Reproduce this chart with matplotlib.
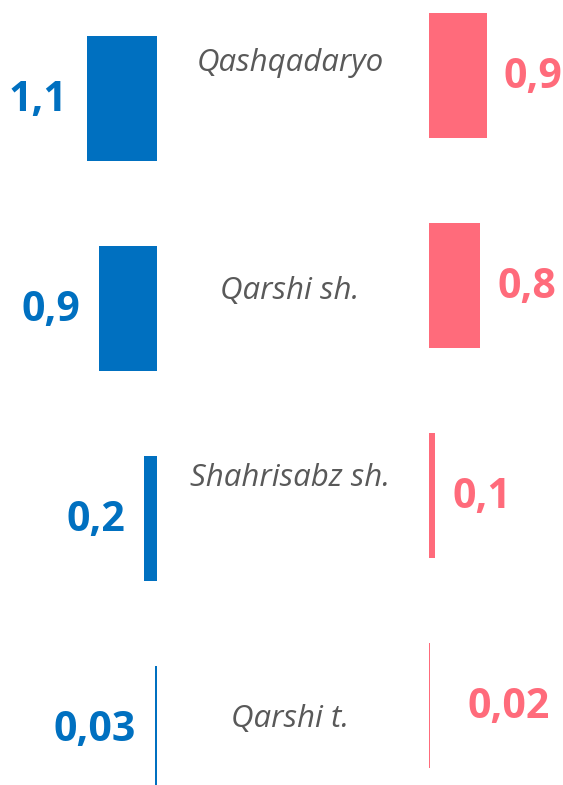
import numpy as np
import matplotlib.pyplot as plt

regions = ["Qashqadaryo", "Qarshi sh.", "Shahrisabz sh.", "Qarshi t."]
left_vals = [1.1, 0.9, 0.2, 0.03]
right_vals = [0.9, 0.8, 0.1, 0.02]
left_labels = ["1,1", "0,9", "0,2", "0,03"]
right_labels = ["0,9", "0,8", "0,1", "0,02"]

BLUE = "#0070C0"
PINK = "#FF6B7B"
GREY = "#595959"

W, H = 563, 785
PX_UNIT = 64.0   # pixels per value unit
ROW = 210.0      # pixels between rows
BAR_H = 125 / ROW

# small layout nudges (pixels) as in the original slide
name_dy = [-13, 5, -17, 13]
right_dx = [17, 17, 17, 37]

fig = plt.figure(figsize=(W / 100, H / 100), dpi=100)

# left (blue) bars grow to the left from x=157
ax_l = fig.add_axes([0, 0, 157 / W, 1])
ax_l.set_xlim(157 / PX_UNIT, 0)
ax_l.set_ylim((H - 98.5) / ROW, -98.5 / ROW)

# right (pink) bars grow to the right from x=429, sit 23px higher
ax_r = fig.add_axes([429 / W, 0, (W - 429) / W, 1])
ax_r.set_xlim(0, (W - 429) / PX_UNIT)
ax_r.set_ylim((H - 75.5) / ROW, -75.5 / ROW)

y = np.arange(len(regions))
ax_l.barh(y, left_vals, height=BAR_H, color=BLUE)
ax_r.barh(y, right_vals, height=BAR_H, color=PINK)

num_font = dict(family=["Open Sans", "DejaVu Sans"], fontweight="bold", fontsize=29.5)
for i in y:
    ax_l.annotate(left_labels[i], (left_vals[i], i), xytext=(-19, -2),
                  textcoords="offset pixels", ha="right", va="center",
                  color=BLUE, **num_font)
    ax_r.annotate(right_labels[i], (right_vals[i], i), xytext=(right_dx[i], -2),
                  textcoords="offset pixels", ha="left", va="center",
                  color=PINK, **num_font)
    ax_r.annotate(regions[i], (290 / W, i + name_dy[i] / ROW),
                  xycoords=("figure fraction", "data"),
                  ha="center", va="center", color=GREY, style="italic",
                  family=["Open Sans", "DejaVu Sans"], fontsize=22.5)

for ax in (ax_l, ax_r):
    ax.set_axis_off()

fig.savefig("out.png", dpi=100)
